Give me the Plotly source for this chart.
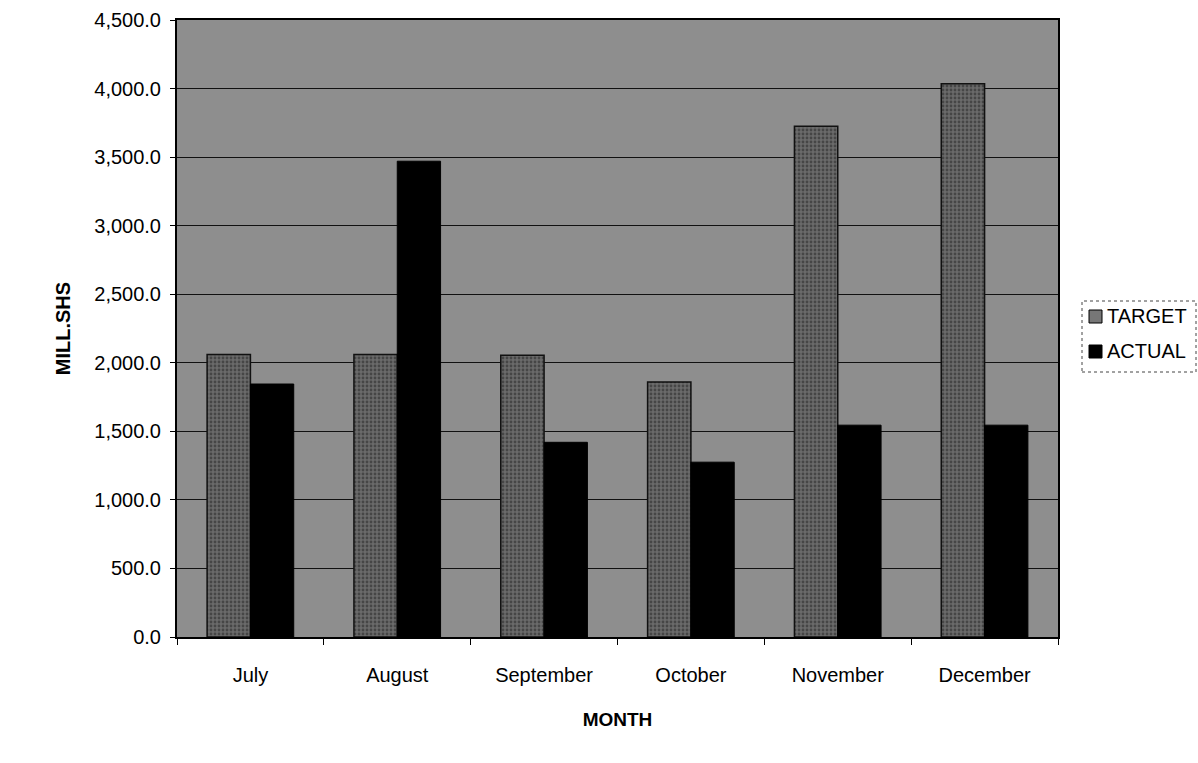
import plotly.graph_objects as go

months = ["July", "August", "September", "October", "November", "December"]
target = [2060, 2060, 2055, 1860, 3725, 4035]
actual = [1845, 3470, 1420, 1275, 1545, 1545]
y_ticks = [0, 500, 1000, 1500, 2000, 2500, 3000, 3500, 4000, 4500]
series_names = ["TARGET", "ACTUAL"]

font_family = "Liberation Sans, Arial, sans-serif"
W, H = 1198, 763
ML, MR, MT, MB = 177, 140, 20, 126

target_color = "#555555"
actual_color = "#000000"

fig = go.Figure()
fig.add_trace(go.Bar(
    name=series_names[0], x=months, y=target,
    marker=dict(color=target_color,
                line=dict(color="#111111", width=1.5),
                pattern=dict(shape=".", fgcolor="#222222", bgcolor="#6a6a6a", size=4, solidity=0.4)),
))
fig.add_trace(go.Bar(
    name=series_names[1], x=months, y=actual,
    marker=dict(color=actual_color, line=dict(color="#000000", width=1)),
))

# manual legend (pixel -> paper coordinates)
def px(x):
    return (x - ML) / (W - ML - MR)

def py(y):
    return (H - MB - y) / (H - MT - MB)

shapes = [
    dict(type="rect", xref="paper", yref="paper",
         x0=px(1082), x1=px(1196), y0=py(372), y1=py(301),
         line=dict(color="#444444", width=1, dash="dot"), fillcolor="white", layer="above"),
    dict(type="rect", xref="paper", yref="paper",
         x0=px(1089), x1=px(1102), y0=py(323), y1=py(310),
         line=dict(color="black", width=1), fillcolor="#777777", layer="above"),
    dict(type="rect", xref="paper", yref="paper",
         x0=px(1089), x1=px(1102), y0=py(358), y1=py(345),
         line=dict(color="black", width=1), fillcolor="black", layer="above"),
]
annotations = [
    dict(text=series_names[0], xref="paper", yref="paper", x=px(1105), y=py(316),
         xanchor="left", yanchor="middle", showarrow=False, font=dict(size=20)),
    dict(text=series_names[1], xref="paper", yref="paper", x=px(1105), y=py(351),
         xanchor="left", yanchor="middle", showarrow=False, font=dict(size=20)),
]

fig.update_layout(
    width=W, height=H,
    barmode="group", bargap=0.41, bargroupgap=0,
    paper_bgcolor="white", plot_bgcolor="#8e8e8e",
    margin=dict(l=ML, r=MR, t=MT, b=MB, autoexpand=False),
    font=dict(family=font_family, size=19, color="black"),
    showlegend=False,
    shapes=shapes,
    annotations=annotations,
)
fig.update_xaxes(
    showline=True, linecolor="black", linewidth=2, mirror=True,
    ticks="outside", tickson="boundaries", ticklen=6, tickcolor="black",
    ticklabelstandoff=19, tickfont=dict(size=20),
    title=dict(text="<b>MONTH</b>", font=dict(size=19), standoff=28),
    showgrid=False, automargin=False,
)
fig.update_yaxes(
    range=[0, 4500], tickvals=y_ticks, tickformat=",.1f",
    showline=True, linecolor="black", linewidth=2, mirror=True,
    ticks="outside", ticklen=5, tickcolor="black", ticklabelstandoff=5,
    showgrid=True, gridcolor="#111111", gridwidth=1,
    zeroline=False, tickfont=dict(size=20),
    title=dict(text="<b>MILL.SHS</b>", font=dict(size=20), standoff=18),
    automargin=False,
)

fig.write_html("out.html", config={"displayModeBar": False},
               post_script="document.body.style.margin='0';")
